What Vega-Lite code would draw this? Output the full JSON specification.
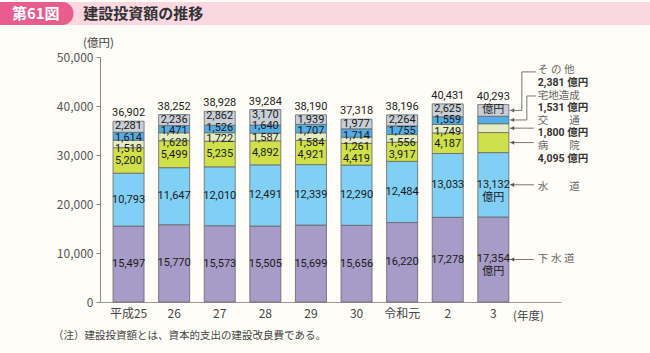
{
  "$schema": "https://vega.github.io/schema/vega-lite/v6.json",
  "width": 461,
  "height": 245,
  "autosize": {"type": "none"},
  "padding": {"left": 100, "top": 57, "right": 89, "bottom": 51},
  "background": "#fffdf7",
  "config": {"view": {"stroke": null}, "font": "Noto Sans CJK JP"},
  "title": {"text": "（注）建設投資額とは、資本的支出の建設改良費である。", "orient": "bottom", "anchor": "start", "frame": "group", "dx": -47, "offset": 9, "fontSize": 10.5, "fontWeight": "normal", "color": "#444"},
  "datasets": {
    "segments": [
      {"year": "平成25", "cat": "下水道", "value": 15497}, {"year": "平成25", "cat": "水道", "value": 10793}, {"year": "平成25", "cat": "病院", "value": 5200}, {"year": "平成25", "cat": "交通", "value": 1518}, {"year": "平成25", "cat": "宅地造成", "value": 1614}, {"year": "平成25", "cat": "その他", "value": 2281},
      {"year": "26", "cat": "下水道", "value": 15770}, {"year": "26", "cat": "水道", "value": 11647}, {"year": "26", "cat": "病院", "value": 5499}, {"year": "26", "cat": "交通", "value": 1628}, {"year": "26", "cat": "宅地造成", "value": 1471}, {"year": "26", "cat": "その他", "value": 2236},
      {"year": "27", "cat": "下水道", "value": 15573}, {"year": "27", "cat": "水道", "value": 12010}, {"year": "27", "cat": "病院", "value": 5235}, {"year": "27", "cat": "交通", "value": 1722}, {"year": "27", "cat": "宅地造成", "value": 1526}, {"year": "27", "cat": "その他", "value": 2862},
      {"year": "28", "cat": "下水道", "value": 15505}, {"year": "28", "cat": "水道", "value": 12491}, {"year": "28", "cat": "病院", "value": 4892}, {"year": "28", "cat": "交通", "value": 1587}, {"year": "28", "cat": "宅地造成", "value": 1640}, {"year": "28", "cat": "その他", "value": 3170},
      {"year": "29", "cat": "下水道", "value": 15699}, {"year": "29", "cat": "水道", "value": 12339}, {"year": "29", "cat": "病院", "value": 4921}, {"year": "29", "cat": "交通", "value": 1584}, {"year": "29", "cat": "宅地造成", "value": 1707}, {"year": "29", "cat": "その他", "value": 1939},
      {"year": "30", "cat": "下水道", "value": 15656}, {"year": "30", "cat": "水道", "value": 12290}, {"year": "30", "cat": "病院", "value": 4419}, {"year": "30", "cat": "交通", "value": 1261}, {"year": "30", "cat": "宅地造成", "value": 1714}, {"year": "30", "cat": "その他", "value": 1977},
      {"year": "令和元", "cat": "下水道", "value": 16220}, {"year": "令和元", "cat": "水道", "value": 12484}, {"year": "令和元", "cat": "病院", "value": 3917}, {"year": "令和元", "cat": "交通", "value": 1556}, {"year": "令和元", "cat": "宅地造成", "value": 1755}, {"year": "令和元", "cat": "その他", "value": 2264},
      {"year": "2", "cat": "下水道", "value": 17278}, {"year": "2", "cat": "水道", "value": 13033}, {"year": "2", "cat": "病院", "value": 4187}, {"year": "2", "cat": "交通", "value": 1749}, {"year": "2", "cat": "宅地造成", "value": 1559}, {"year": "2", "cat": "その他", "value": 2625},
      {"year": "3", "cat": "下水道", "value": 17354}, {"year": "3", "cat": "水道", "value": 13132}, {"year": "3", "cat": "病院", "value": 4095}, {"year": "3", "cat": "交通", "value": 1800}, {"year": "3", "cat": "宅地造成", "value": 1531}, {"year": "3", "cat": "その他", "value": 2381}
    ],
    "totals": [
      {"year": "平成25", "total": 36902}, {"year": "26", "total": 38252}, {"year": "27", "total": 38928}, {"year": "28", "total": 39284}, {"year": "29", "total": 38190}, {"year": "30", "total": 37318}, {"year": "令和元", "total": 38196}, {"year": "2", "total": 40431}, {"year": "3", "total": 40293}
    ]
  },
  "layer": [
    {
      "data": {"values": [{"t": 1}]},
      "layer": [
        {"mark": {"type": "rect", "color": "#fad7e1"},
         "encoding": {"x": {"datum": 0, "type": "quantitative", "scale": {"domain": [0, 1], "range": [-100, 550]}, "axis": null}, "x2": {"datum": 1},
                      "y": {"datum": 0, "type": "quantitative", "scale": {"domain": [0, 1], "range": [-32, -55]}, "axis": null}, "y2": {"datum": 1}}},
        {"mark": {"type": "rect", "color": "#e85d8e", "cornerRadiusTopRight": 11, "cornerRadiusBottomRight": 11},
         "encoding": {"x": {"datum": 0, "type": "quantitative"}, "x2": {"datum": 0.113}, "y": {"datum": 0, "type": "quantitative"}, "y2": {"datum": 1}}},
        {"mark": {"type": "text", "text": "第61図", "color": "#ffffff", "fontSize": 15, "fontWeight": "bold", "align": "center", "baseline": "middle"},
         "encoding": {"x": {"datum": 0.055, "type": "quantitative"}, "y": {"datum": 0.5, "type": "quantitative"}}},
        {"mark": {"type": "text", "text": "建設投資額の推移", "color": "#333333", "fontSize": 15, "fontWeight": "bold", "align": "left", "baseline": "middle"},
         "encoding": {"x": {"datum": 0.128, "type": "quantitative"}, "y": {"datum": 0.5, "type": "quantitative"}}}
      ]
    },
    {
      "layer": [
        {
          "data": {"name": "segments"},
          "transform": [
            {"calculate": "indexof(['下水道','水道','病院','交通','宅地造成','その他'], datum.cat)", "as": "idx"},
            {"stack": "value", "groupby": ["year"], "sort": [{"field": "idx", "order": "ascending"}], "as": ["v0", "v1"]},
            {"joinaggregate": [{"op": "max", "field": "v1", "as": "top"}], "groupby": ["year"]},
            {"calculate": "(datum.v0 + datum.v1) / 2", "as": "mid"},
            {"calculate": "format(datum.value, ',') + ' 億円'", "as": "vlabel"}
          ],
          "layer": [
            {"mark": {"type": "bar", "stroke": "#666666", "strokeWidth": 0.8},
             "encoding": {
               "x": {"field": "year", "type": "nominal",
                     "scale": {"domain": ["平成25", "26", "27", "28", "29", "30", "令和元", "2", "3"], "paddingInner": 0.32, "paddingOuter": 0.715, "align": 0.2},
                     "axis": {"orient": "bottom", "title": "(年度)", "labelAngle": 0, "ticks": false, "labelFontSize": 12, "labelColor": "#444", "labelPadding": 6, "domainColor": "#999", "titleFontSize": 11.5, "titleFontWeight": "normal", "titleColor": "#444", "titleX": 428, "titleY": 14, "titleAlign": "center", "titleBaseline": "middle"}},
               "y": {"field": "v0", "type": "quantitative", "scale": {"domain": [0, 50000], "nice": false},
                     "axis": {"orient": "left", "title": "(億円)", "values": [0, 10000, 20000, 30000, 40000, 50000], "format": ",.0f", "grid": false, "tickSize": 4, "tickColor": "#888", "domainColor": "#888", "labelFontSize": 12, "labelColor": "#555", "labelPadding": 3, "titleAngle": 0, "titleX": -2, "titleY": -14, "titleAlign": "center", "titleBaseline": "middle", "titleFontSize": 11.5, "titleFontWeight": "normal", "titleColor": "#444"}},
               "y2": {"field": "v1"},
               "color": {"field": "cat", "type": "nominal", "scale": {"domain": ["下水道", "水道", "病院", "交通", "宅地造成", "その他"], "range": ["#a79bc8", "#80cff5", "#cfe04b", "#e4edc1", "#55ade6", "#c8cfd6"]}, "legend": null}
             }},
            {"transform": [
               {"filter": "datum.year !== '3' || datum.idx < 2"},
               {"calculate": "datum.year === '3' ? format(datum.value, ',') + '\\n億円' : format(datum.value, ',')", "as": "lab"},
               {"calculate": "datum.idx === 2 ? min(datum.mid, datum.top - 8160) : (datum.idx >= 3 ? datum.top : datum.mid)", "as": "ly"}
             ],
             "layer": [
               {"transform": [{"filter": "datum.idx <= 2"}],
                "mark": {"type": "text", "fill": "#1a1a1a", "font": "Roboto, Noto Sans CJK JP", "fontSize": 11, "lineBreak": "\n", "lineHeight": 13},
                "encoding": {"x": {"field": "year", "type": "nominal"}, "y": {"field": "ly", "type": "quantitative"}, "text": {"field": "lab"}}},
               {"transform": [{"filter": "datum.idx === 3"}],
                "mark": {"type": "text", "fill": "#1a1a1a", "font": "Roboto", "fontSize": 11, "yOffset": 28},
                "encoding": {"x": {"field": "year", "type": "nominal"}, "y": {"field": "ly", "type": "quantitative"}, "text": {"field": "lab"}}},
               {"transform": [{"filter": "datum.idx === 4"}],
                "mark": {"type": "text", "fill": "#1a1a1a", "font": "Roboto", "fontSize": 11, "yOffset": 16.5},
                "encoding": {"x": {"field": "year", "type": "nominal"}, "y": {"field": "ly", "type": "quantitative"}, "text": {"field": "lab"}}},
               {"transform": [{"filter": "datum.idx === 5"}],
                "mark": {"type": "text", "fill": "#1a1a1a", "font": "Roboto", "fontSize": 11, "yOffset": 5},
                "encoding": {"x": {"field": "year", "type": "nominal"}, "y": {"field": "ly", "type": "quantitative"}, "text": {"field": "lab"}}}
             ]},
            {"transform": [{"filter": "datum.year === '3'"}],
             "layer": [
               {"transform": [{"filter": "datum.idx <= 3"}],
                "mark": {"type": "rule", "color": "#777", "strokeWidth": 1, "xOffset": 1, "x2Offset": 25},
                "encoding": {"x": {"field": "year", "type": "nominal", "bandPosition": 1}, "x2": {"field": "year", "bandPosition": 1}, "y": {"field": "mid", "type": "quantitative"}}},
               {"mark": {"type": "point", "shape": "triangle-left", "filled": true, "size": 18, "color": "#555", "opacity": 1, "xOffset": 3.5},
                "encoding": {"x": {"field": "year", "type": "nominal", "bandPosition": 1}, "y": {"field": "mid", "type": "quantitative"}}},
               {"transform": [{"filter": "datum.cat === 'その他'"}],
                "layer": [
                  {"mark": {"type": "rule", "color": "#777", "strokeWidth": 1, "xOffset": 1, "x2Offset": 13},
                   "encoding": {"x": {"field": "year", "type": "nominal", "bandPosition": 1}, "x2": {"field": "year", "bandPosition": 1}, "y": {"field": "mid", "type": "quantitative"}}},
                  {"mark": {"type": "rule", "color": "#777", "strokeWidth": 1, "xOffset": 13, "y2Offset": -38.5},
                   "encoding": {"x": {"field": "year", "type": "nominal", "bandPosition": 1}, "y": {"field": "mid", "type": "quantitative"}, "y2": {"field": "mid"}}},
                  {"mark": {"type": "rule", "color": "#777", "strokeWidth": 1, "xOffset": 13, "x2Offset": 27, "yOffset": -38.5},
                   "encoding": {"x": {"field": "year", "type": "nominal", "bandPosition": 1}, "x2": {"field": "year", "bandPosition": 1}, "y": {"field": "mid", "type": "quantitative"}}},
                  {"mark": {"type": "text", "text": "そ の 他", "align": "left", "baseline": "middle", "xOffset": 29, "yOffset": -40, "font": "Roboto, Noto Sans CJK JP", "fontSize": 10.5, "color": "#666"},
                   "encoding": {"x": {"field": "year", "type": "nominal", "bandPosition": 1}, "y": {"field": "mid", "type": "quantitative"}}},
                  {"mark": {"type": "text", "align": "left", "baseline": "middle", "xOffset": 29, "yOffset": -27.4, "font": "Roboto, Noto Sans CJK JP", "fontSize": 10.5, "fontWeight": "bold", "color": "#333"},
                   "encoding": {"x": {"field": "year", "type": "nominal", "bandPosition": 1}, "y": {"field": "mid", "type": "quantitative"}, "text": {"field": "vlabel"}}}
                ]},
               {"transform": [{"filter": "datum.cat === '宅地造成'"}],
                "layer": [
                  {"mark": {"type": "rule", "color": "#777", "strokeWidth": 1, "xOffset": 1, "x2Offset": 18},
                   "encoding": {"x": {"field": "year", "type": "nominal", "bandPosition": 1}, "x2": {"field": "year", "bandPosition": 1}, "y": {"field": "mid", "type": "quantitative"}}},
                  {"mark": {"type": "rule", "color": "#777", "strokeWidth": 1, "xOffset": 18, "y2Offset": -24},
                   "encoding": {"x": {"field": "year", "type": "nominal", "bandPosition": 1}, "y": {"field": "mid", "type": "quantitative"}, "y2": {"field": "mid"}}},
                  {"mark": {"type": "rule", "color": "#777", "strokeWidth": 1, "xOffset": 18, "x2Offset": 27, "yOffset": -24},
                   "encoding": {"x": {"field": "year", "type": "nominal", "bandPosition": 1}, "x2": {"field": "year", "bandPosition": 1}, "y": {"field": "mid", "type": "quantitative"}}},
                  {"mark": {"type": "text", "text": "宅地造成", "align": "left", "baseline": "middle", "xOffset": 29, "yOffset": -24.4, "font": "Roboto, Noto Sans CJK JP", "fontSize": 10.5, "color": "#666"},
                   "encoding": {"x": {"field": "year", "type": "nominal", "bandPosition": 1}, "y": {"field": "mid", "type": "quantitative"}}},
                  {"mark": {"type": "text", "align": "left", "baseline": "middle", "xOffset": 29, "yOffset": -11.8, "font": "Roboto, Noto Sans CJK JP", "fontSize": 10.5, "fontWeight": "bold", "color": "#333"},
                   "encoding": {"x": {"field": "year", "type": "nominal", "bandPosition": 1}, "y": {"field": "mid", "type": "quantitative"}, "text": {"field": "vlabel"}}}
                ]},
               {"transform": [{"filter": "datum.cat === '交通'"}],
                "layer": [
                  {"mark": {"type": "text", "text": "交　　通", "align": "left", "baseline": "middle", "xOffset": 29, "yOffset": -7.3, "font": "Roboto, Noto Sans CJK JP", "fontSize": 10.5, "color": "#666"},
                   "encoding": {"x": {"field": "year", "type": "nominal", "bandPosition": 1}, "y": {"field": "mid", "type": "quantitative"}}},
                  {"mark": {"type": "text", "align": "left", "baseline": "middle", "xOffset": 29, "yOffset": 5.3, "font": "Roboto, Noto Sans CJK JP", "fontSize": 10.5, "fontWeight": "bold", "color": "#333"},
                   "encoding": {"x": {"field": "year", "type": "nominal", "bandPosition": 1}, "y": {"field": "mid", "type": "quantitative"}, "text": {"field": "vlabel"}}}
                ]},
               {"transform": [{"filter": "datum.cat === '病院'"}],
                "layer": [
                  {"mark": {"type": "text", "text": "病　　院", "align": "left", "baseline": "middle", "xOffset": 29, "yOffset": 3.4, "font": "Roboto, Noto Sans CJK JP", "fontSize": 10.5, "color": "#666"},
                   "encoding": {"x": {"field": "year", "type": "nominal", "bandPosition": 1}, "y": {"field": "mid", "type": "quantitative"}}},
                  {"mark": {"type": "text", "align": "left", "baseline": "middle", "xOffset": 29, "yOffset": 16, "font": "Roboto, Noto Sans CJK JP", "fontSize": 10.5, "fontWeight": "bold", "color": "#333"},
                   "encoding": {"x": {"field": "year", "type": "nominal", "bandPosition": 1}, "y": {"field": "mid", "type": "quantitative"}, "text": {"field": "vlabel"}}}
                ]},
               {"transform": [{"filter": "datum.cat === '水道'"}],
                "mark": {"type": "text", "text": "水　　道", "align": "left", "baseline": "middle", "xOffset": 29, "yOffset": 2, "font": "Roboto, Noto Sans CJK JP", "fontSize": 10.5, "color": "#666"},
                "encoding": {"x": {"field": "year", "type": "nominal", "bandPosition": 1}, "y": {"field": "mid", "type": "quantitative"}}},
               {"transform": [{"filter": "datum.cat === '下水道'"}],
                "mark": {"type": "text", "text": "下 水 道", "align": "left", "baseline": "middle", "xOffset": 29, "yOffset": 0, "font": "Roboto, Noto Sans CJK JP", "fontSize": 10.5, "color": "#666"},
                "encoding": {"x": {"field": "year", "type": "nominal", "bandPosition": 1}, "y": {"field": "mid", "type": "quantitative"}}}
             ]}
          ]
        },
        {
          "data": {"name": "totals"},
          "transform": [{"calculate": "datum.year === '3' ? format(datum.total, ',') + '\\n億円' : format(datum.total, ',')", "as": "lab"}],
          "mark": {"type": "text", "baseline": "bottom", "dy": -3, "font": "Roboto, Noto Sans CJK JP", "fontSize": 11, "lineBreak": "\n", "lineHeight": 13, "color": "#222"},
          "encoding": {"x": {"field": "year", "type": "nominal"}, "y": {"field": "total", "type": "quantitative"}, "text": {"field": "lab"}}
        }
      ]
    }
  ],
  "resolve": {"scale": {"x": "independent", "y": "independent"}}
}
